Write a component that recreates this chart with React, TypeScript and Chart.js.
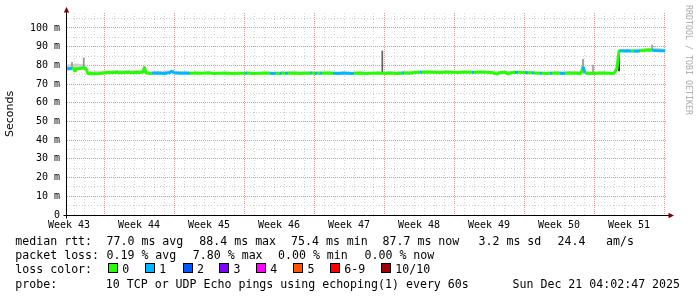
import React, { useEffect, useRef } from 'react';
import { Chart, registerables } from 'chart.js';

Chart.register(...registerables);

// ---- data (time in days since the left edge of the graph) ----
const weekLabels = ['Week 43', 'Week 44', 'Week 45', 'Week 46', 'Week 47', 'Week 48', 'Week 49', 'Week 50', 'Week 51'];

const times = [
  0.0, 0.3, 0.5, 0.7, 0.8, 0.9, 1.3, 1.6, 1.9, 2.1, 2.5, 2.9, 3.3, 3.7, 4.1, 4.5, 4.9, 5.3, 5.7, 6.1,
  6.5, 6.9, 7.3, 7.6, 7.75, 7.9, 8.3, 8.5, 9.1, 9.7, 10.3, 10.5, 10.7, 11.3, 11.9, 12.3, 12.9, 13.5, 14.1, 14.7,
  15.3, 15.9, 16.5, 17.1, 17.8, 18.0, 18.7, 19.3, 19.9, 20.3, 20.6, 20.9, 21.3, 21.5, 21.8, 22.1, 22.7, 23.3, 23.9, 24.3,
  24.5, 24.8, 25.0, 25.3, 25.5, 26.1, 26.6, 27.1, 27.7, 28.1, 28.5, 28.7, 29.3, 29.9, 30.5, 31.1, 31.5, 31.7, 32.3, 32.9,
  33.5, 33.7, 34.3, 34.8, 35.3, 35.5, 36.1, 36.7, 37.3, 37.9, 38.5, 39.1, 39.7, 40.3, 40.5, 40.7, 41.3, 41.9, 42.5, 43.0,
  43.3, 43.9, 44.1, 44.4, 44.8, 45.1, 45.8, 46.1, 46.5, 46.7, 47.3, 47.5, 47.9, 48.3, 48.5, 48.9, 49.3, 49.6, 49.8, 50.3,
  50.9, 51.4, 51.6, 51.8, 52.3, 52.9, 53.5, 54.1, 54.7, 55.0, 55.2, 55.3, 55.7, 56.1, 56.4, 56.7, 57.0, 57.3, 57.7, 58.1,
  58.5, 58.9, 59.3, 59.8,
];
const medianRtt = [
  78.2, 78.3, 78.2, 78.4, 76.6, 78.2, 78.3, 78.6, 78.2, 75.5, 75.6, 75.5, 75.6, 76.0, 76.2, 76.1, 76.3, 76.0, 76.2, 76.3,
  76.0, 76.3, 76.2, 76.4, 79.0, 76.0, 75.6, 75.8, 75.9, 75.7, 76.2, 77.0, 76.0, 75.8, 75.9, 75.8, 75.9, 75.8, 76.0, 75.7,
  75.8, 75.9, 75.7, 75.8, 75.8, 75.9, 75.7, 75.8, 75.9, 75.8, 75.6, 75.8, 75.7, 75.9, 75.8, 75.8, 75.9, 75.7, 75.8, 75.8,
  75.9, 75.7, 75.8, 75.8, 75.8, 75.9, 75.8, 75.7, 75.9, 75.8, 75.6, 75.8, 75.9, 75.7, 75.8, 75.9, 75.8, 75.8, 75.9, 75.7,
  75.8, 75.9, 75.8, 76.2, 76.3, 76.3, 76.4, 76.3, 76.2, 76.4, 76.3, 76.2, 76.4, 76.3, 76.3, 76.2, 76.4, 76.3, 76.2, 75.3,
  76.2, 76.3, 75.3, 76.2, 76.2, 76.3, 76.2, 76.1, 76.0, 75.9, 75.8, 75.8, 75.7, 75.8, 75.8, 75.9, 75.8, 75.7, 75.8, 75.9,
  75.8, 75.7, 79.3, 75.8, 75.7, 75.8, 75.9, 75.8, 75.7, 78.6, 87.9, 87.8, 87.7, 87.8, 87.6, 87.7, 87.5, 87.8, 88.0, 88.2,
  88.1, 87.9, 87.8, 87.8,
];
const lostPings = [
  1, 1, 0, 0, 0, 0, 0, 0, 0, 0, 0, 0, 0, 0, 0, 0, 0, 0, 0, 0,
  0, 0, 0, 0, 0, 0, 0, 1, 1, 1, 1, 1, 1, 1, 1, 0, 0, 0, 0, 0,
  0, 0, 0, 0, 1, 0, 0, 0, 0, 1, 1, 0, 1, 0, 1, 0, 0, 0, 0, 1,
  0, 1, 0, 1, 0, 0, 1, 1, 1, 1, 1, 0, 0, 0, 0, 0, 0, 0, 0, 0,
  1, 0, 0, 0, 1, 0, 0, 0, 0, 0, 0, 0, 0, 0, 1, 0, 0, 0, 0, 0,
  0, 0, 0, 0, 1, 0, 1, 0, 1, 0, 1, 0, 0, 1, 0, 0, 1, 1, 0, 0,
  0, 0, 1, 0, 0, 0, 0, 0, 0, 0, 0, 1, 1, 1, 0, 1, 1, 0, 0, 0,
  1, 1, 1, 1,
];

// smoke (spread of the individual pings)
const smokeTimes = [0, 1.0, 1.9, 2.1, 3.3, 4.8, 6.3, 7.6, 8.3, 10.3, 12.3, 16.3, 20.3, 24.3, 28.3, 31.3, 35.3, 39.3, 43.3, 47.3, 51.3, 54.9, 55.3, 57.3, 58.8, 59.9];
const smokeLow = [78.2, 78.2, 78.2, 75.5, 75.6, 76.1, 76.0, 76.3, 75.7, 76.1, 75.8, 75.8, 75.8, 75.8, 75.7, 75.8, 76.3, 76.3, 76.2, 75.8, 75.8, 75.8, 87.8, 87.8, 88.0, 87.8];
const smokeHigh = [80.5, 81.0, 80.5, 77.0, 77.3, 77.5, 77.4, 77.6, 76.8, 77.2, 76.6, 76.5, 76.6, 76.8, 76.6, 76.6, 77.2, 77.1, 77.0, 76.6, 77.0, 76.6, 88.8, 89.0, 89.6, 88.8];

// isolated outliers (single-interval smoke spikes)
const spikeTimes = [0.5, 1.67, 7.73, 31.53, 51.6, 52.6, 55.2, 58.5];
const spikeLow = [78.8, 78.8, 76.5, 76.2, 77.0, 76.5, 77.0, 88.5];
const spikeHigh = [81.6, 84.0, 79.2, 87.7, 83.2, 80.2, 88.0, 90.9];
const spikeDensity = [0.3, 0.35, 0.9, 0.6, 0.35, 0.3, 0.95, 0.3];

const lossNames = ['0', '1', '2', '3', '4', '5', '6-9', '10/10'];
const lossColors = ['#26ff00', '#00b8ff', '#0059ff', '#7e00ff', '#ff00ff', '#ff5500', '#ff0000', '#a10000'];

const rttStats = ['77.0 ms avg', '88.4 ms max', '75.4 ms min', '87.7 ms now', '3.2 ms sd', '24.4', 'am/s'];
const lossStats = ['0.19 % avg', '7.80 % max', '0.00 % min', '0.00 % now'];
const probeText = '10 TCP or UDP Echo pings using echoping(1) every 60s';
const stampText = 'Sun Dec 21 04:02:47 2025';

// ---- layout constants ----
const W = 697;
const H = 297;
const X_MIN = 0;
const X_MAX = 60;
const WEEK_LINE_OFFSET = 3.7; // red week lines
const LABEL_OFFSET = 0.2; // week label centres
const Y_MAX = 108;

const lossIndex = (n: number) => (n <= 5 ? n : n >= 10 ? 7 : 6);
const near = (a: number, b: number) => Math.abs(a - b) < 1e-6;
const isLabelTick = (v: number) => {
  const k = (v - LABEL_OFFSET) / 7;
  return near(k, Math.round(k));
};
const isWeekLine = (v: number) => {
  const k = (v - WEEK_LINE_OFFSET) / 7;
  return near(k, Math.round(k));
};

const xTickValues: number[] = (() => {
  const vals: number[] = [];
  for (let d = 0.7; d < X_MAX; d += 1) vals.push(Math.round(d * 10) / 10);
  weekLabels.forEach((_, i) => vals.push(Math.round((LABEL_OFFSET + 7 * i) * 10) / 10));
  return vals.sort((a, b) => a - b);
})();
const yTickValues: number[] = (() => {
  const vals: number[] = [];
  for (let v = 0; v <= Y_MAX; v += 5) vals.push(v);
  return vals;
})();

const GRID_MINOR = '#d2d2d2';
const GRID_MAJOR = '#e39494';
const MONO = "'DejaVu Sans Mono', monospace";

const axesPlugin = {
  id: 'rrdAxes',
  afterDraw(chart: any) {
    const { ctx, chartArea } = chart;
    const { left, right, top, bottom } = chartArea;
    const ax = Math.round(left) - 0.5;
    const ay = Math.round(bottom) + 0.5;
    ctx.save();
    ctx.strokeStyle = '#000';
    ctx.lineWidth = 1;
    ctx.beginPath();
    ctx.moveTo(ax, ay + 3);
    ctx.lineTo(ax, top - 2);
    ctx.moveTo(ax - 3, ay);
    ctx.lineTo(right + 2, ay);
    ctx.stroke();
    ctx.fillStyle = '#7f0000';
    ctx.beginPath();
    ctx.moveTo(ax, top - 6);
    ctx.lineTo(ax - 2.7, top - 0.5);
    ctx.lineTo(ax + 2.7, top - 0.5);
    ctx.closePath();
    ctx.fill();
    ctx.beginPath();
    ctx.moveTo(right + 7, ay);
    ctx.lineTo(right + 1.5, ay - 2.7);
    ctx.lineTo(right + 1.5, ay + 2.7);
    ctx.closePath();
    ctx.fill();
    ctx.restore();
  },
};

function RrdChart() {
  const ref = useRef<HTMLCanvasElement | null>(null);
  useEffect(() => {
    if (!ref.current) return;
    const chart = new Chart(ref.current, {
      type: 'line',
      data: {
        datasets: [
          {
            type: 'line',
            data: smokeTimes.map((t, i) => ({ x: t, y: smokeLow[i] })),
            borderWidth: 0,
            pointRadius: 0,
            fill: false,
            borderColor: 'rgba(0,0,0,0)',
            order: 5,
          },
          {
            type: 'line',
            data: smokeTimes.map((t, i) => ({ x: t, y: smokeHigh[i] })),
            borderWidth: 0,
            pointRadius: 0,
            fill: '-1',
            borderColor: 'rgba(0,0,0,0)',
            backgroundColor: '#d2d2d2',
            order: 4,
          },
          {
            type: 'bar',
            data: spikeTimes.map((t, i) => ({ x: t, y: [spikeLow[i], spikeHigh[i]] })) as any,
            backgroundColor: spikeDensity.map((d) => {
              const g = Math.round(215 - d * 200);
              return `rgb(${g},${g},${g})`;
            }),
            borderWidth: 0,
            barThickness: 1,
            order: 3,
          },
          {
            type: 'line',
            data: times.map((t, i) => ({ x: t, y: medianRtt[i] })),
            borderWidth: 3,
            pointRadius: 0,
            tension: 0,
            fill: false,
            borderColor: lossColors[0],
            borderCapStyle: 'butt',
            borderJoinStyle: 'bevel',
            segment: {
              borderColor: (c: any) => lossColors[lossIndex(lostPings[c.p0DataIndex])],
            },
            order: 1,
          },
        ] as any,
      },
      options: {
        animation: false,
        responsive: false,
        devicePixelRatio: 1,
        events: [],
        layout: { padding: { left: 0, right: 30, top: 13, bottom: 0 } },
        plugins: { legend: { display: false }, tooltip: { enabled: false }, title: { display: false } },
        scales: {
          x: {
            type: 'linear',
            min: X_MIN,
            max: X_MAX,
            offset: false,
            afterBuildTicks: (s: any) => {
              s.ticks = xTickValues.map((v) => ({ value: v }));
            },
            afterFit: (s: any) => {
              s.height = 82;
            },
            grid: {
              offset: false,
              drawTicks: false,
              lineWidth: 1,
              color: (c: any) => {
                const v = c.tick ? c.tick.value : 0;
                if (isLabelTick(v)) return 'rgba(0,0,0,0)';
                return isWeekLine(v) ? GRID_MAJOR : GRID_MINOR;
              },
            },
            border: {
              display: false,
              dash: (c: any) => (c.tick && isWeekLine(c.tick.value) ? [1, 1] : [1, 2]),
            },
            ticks: {
              autoSkip: false,
              maxRotation: 0,
              minRotation: 0,
              padding: 4,
              color: '#000',
              font: { family: MONO, size: 10 },
              callback: (v: any) => {
                const n = Number(v);
                if (!isLabelTick(n)) return '';
                const k = Math.round((n - LABEL_OFFSET) / 7);
                return weekLabels[k] ?? '';
              },
            },
          },
          y: {
            type: 'linear',
            min: 0,
            max: Y_MAX,
            afterBuildTicks: (s: any) => {
              s.ticks = yTickValues.map((v) => ({ value: v }));
            },
            afterFit: (s: any) => {
              s.width = 67;
            },
            grid: {
              drawTicks: false,
              lineWidth: 1,
              color: (c: any) => {
                const v = c.tick ? c.tick.value : 0;
                if (v === 0) return 'rgba(0,0,0,0)';
                return v % 10 === 0 ? GRID_MAJOR : GRID_MINOR;
              },
            },
            border: {
              display: false,
              dash: (c: any) => (c.tick && c.tick.value % 10 === 0 ? [1, 1] : [1, 2]),
            },
            ticks: {
              autoSkip: false,
              padding: 7,
              color: '#000',
              font: { family: MONO, size: 10 },
              callback: (v: any) => {
                const n = Number(v);
                if (n % 10 !== 0) return '';
                return n === 0 ? '0' : `${n} m`;
              },
            },
            title: {
              display: true,
              text: 'Seconds',
              color: '#000',
              font: { family: "'DejaVu Sans', sans-serif", size: 11 },
              padding: { top: 4, bottom: 0 },
            },
          },
        },
      } as any,
      plugins: [axesPlugin],
    });
    return () => chart.destroy();
  }, []);
  return <canvas ref={ref} width={W} height={H} style={{ position: 'absolute', left: 0, top: 0, width: W, height: H }} />;
}

const rowTop = (baseline: number) => baseline - 11;

function Txt({ x, baseline, children }: { x: number; baseline: number; children: any }) {
  return (
    <span
      style={{
        position: 'absolute',
        left: x,
        top: rowTop(baseline),
        whiteSpace: 'pre',
        lineHeight: '14px',
        fontFamily: MONO,
        fontSize: '11.6px',
        color: '#000',
      }}
    >
      {children}
    </span>
  );
}

const rttX = [106.5, 199.3, 291, 382.5, 478.5, 557.5, 606];
const lossX = [106.5, 192.8, 278, 364.5];
const swatchX = [108, 145, 182.7, 219.3, 256, 293.3, 330, 381];

export default function App() {
  return (
    <div style={{ position: 'fixed', left: 0, top: 0, width: W, height: H, background: '#fff', overflow: 'hidden' }}>
      <RrdChart />
      <Txt x={15.3} baseline={245}>median rtt:</Txt>
      {rttStats.map((s, i) => (
        <Txt key={'r' + i} x={rttX[i]} baseline={245}>{s}</Txt>
      ))}
      <Txt x={15.3} baseline={259}>packet loss:</Txt>
      {lossStats.map((s, i) => (
        <Txt key={'l' + i} x={lossX[i]} baseline={259}>{s}</Txt>
      ))}
      <Txt x={15.3} baseline={273}>loss color:</Txt>
      {lossNames.map((s, i) => (
        <React.Fragment key={'c' + i}>
          <span
            style={{
              position: 'absolute',
              left: swatchX[i],
              top: 263,
              width: 8,
              height: 8,
              border: '1px solid #000',
              background: lossColors[i],
            }}
          />
          <Txt x={swatchX[i] + 14.3} baseline={273}>{s}</Txt>
        </React.Fragment>
      ))}
      <Txt x={15.3} baseline={287.5}>probe:</Txt>
      <Txt x={105.8} baseline={287.5}>{probeText}</Txt>
      <Txt x={512.5} baseline={287.5}>{stampText}</Txt>
      <div
        style={{
          position: 'absolute',
          left: 693.5,
          top: 5,
          transform: 'rotate(90deg)',
          transformOrigin: '0 0',
          whiteSpace: 'pre',
          fontFamily: MONO,
          fontSize: '8.3px',
          lineHeight: '10px',
          color: '#aaaaaa',
        }}
      >
        RRDTOOL / TOBI OETIKER
      </div>
    </div>
  );
}
